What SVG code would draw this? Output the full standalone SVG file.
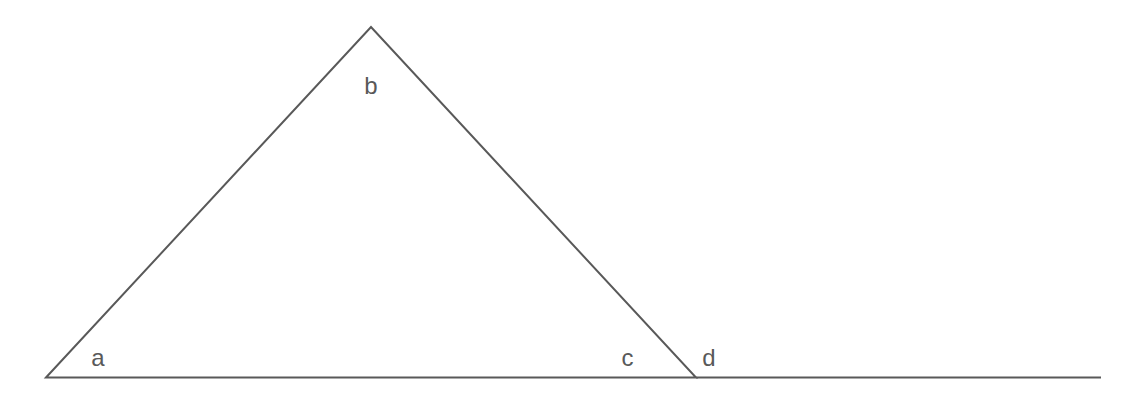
<svg xmlns="http://www.w3.org/2000/svg" width="1148" height="402" viewBox="0 0 1148 402">
<style>
.ln{stroke:#595959;stroke-width:2;fill:none;stroke-linecap:butt;stroke-linejoin:miter}
.lb{font-family:"Liberation Sans",Arial,sans-serif;font-size:24px;fill:#595959;text-anchor:middle}
</style>
<rect width="1148" height="402" fill="#ffffff"/>
<g id="connectors">
<path class="ln" d="M46,377.5 L371,27 L696,377.5 Z"/>
<path class="ln" d="M696,377.5 L1101,377.5"/>
</g>
<g id="label-b"><text class="lb" x="371" y="94">b</text></g>
<g id="label-a"><text class="lb" x="98" y="366">a</text></g>
<g id="label-c"><text class="lb" x="627.5" y="366">c</text></g>
<g id="label-d"><text class="lb" x="709" y="366">d</text></g>
</svg>
